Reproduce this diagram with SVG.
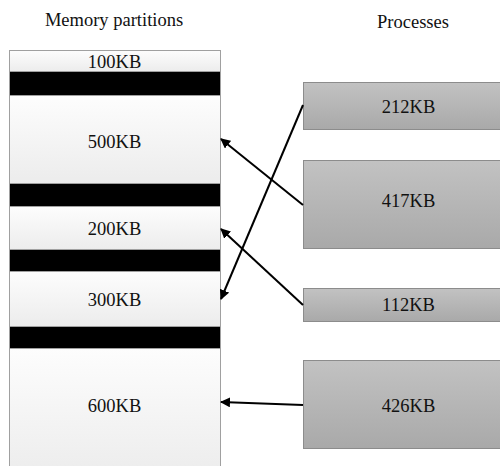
<svg xmlns="http://www.w3.org/2000/svg" width="500" height="466" viewBox="0 0 500 466" font-family="'Liberation Serif', serif">
<style>
text{font-family:'Liberation Serif',serif;font-size:18.5px;fill:#111;text-anchor:middle}
.mem{fill:url(#gm);stroke:#a0a0a0;stroke-width:1}
.bar{fill:#000;stroke:#a0a0a0;stroke-width:1}
.proc{fill:url(#gp);stroke:#8c8c8c;stroke-width:1}
.conn{stroke:#000;stroke-width:2;fill:none;marker-end:url(#ah)}
</style>
<defs>
<linearGradient id="gm" x1="0" y1="0" x2="0" y2="1"><stop offset="0" stop-color="#fdfdfd"/><stop offset="1" stop-color="#ececec"/></linearGradient>
<linearGradient id="gp" x1="0" y1="0" x2="0" y2="1"><stop offset="0" stop-color="#c2c2c2"/><stop offset="1" stop-color="#a9a9a9"/></linearGradient>
<marker id="ah" viewBox="0 0 10 10" refX="9" refY="5" markerWidth="5" markerHeight="5" orient="auto" markerUnits="strokeWidth"><path d="M0,0 L10,5 L0,10 Z" fill="#000"/></marker>
</defs>
<text x="114" y="26">Memory partitions</text>
<text x="413" y="28">Processes</text>
<g id="mem100"><rect class="mem" x="9.5" y="50.5" width="211" height="21"/><text x="114.5" y="68">100KB</text></g>
<g id="hole1"><rect class="bar" x="9.5" y="71.5" width="211" height="24"/></g>
<g id="mem500"><rect class="mem" x="9.5" y="95.5" width="211" height="88"/><text x="114.5" y="148">500KB</text></g>
<g id="hole2"><rect class="bar" x="9.5" y="183.5" width="211" height="23"/></g>
<g id="mem200"><rect class="mem" x="9.5" y="206.5" width="211" height="43"/><text x="114.5" y="235">200KB</text></g>
<g id="hole3"><rect class="bar" x="9.5" y="249.5" width="211" height="22"/></g>
<g id="mem300"><rect class="mem" x="9.5" y="271.5" width="211" height="55"/><text x="114.5" y="306">300KB</text></g>
<g id="hole4"><rect class="bar" x="9.5" y="326.5" width="211" height="22"/></g>
<g id="mem600"><rect class="mem" x="9.5" y="348.5" width="211" height="130"/><text x="114.5" y="411.5">600KB</text></g>
<g id="p212"><rect class="proc" x="303.5" y="82.5" width="210" height="47"/><text x="408.5" y="112.5">212KB</text></g>
<g id="p417"><rect class="proc" x="303.5" y="160.5" width="210" height="88"/><text x="408.5" y="206.5">417KB</text></g>
<g id="p112"><rect class="proc" x="303.5" y="288.5" width="210" height="33"/><text x="408.5" y="310.5">112KB</text></g>
<g id="p426"><rect class="proc" x="303.5" y="360.5" width="210" height="88"/><text x="408.5" y="411.5">426KB</text></g>
<g id="connectors">
<line class="conn" x1="303" y1="105" x2="221" y2="299"/>
<line class="conn" x1="303" y1="205" x2="221" y2="139"/>
<line class="conn" x1="303" y1="305" x2="221" y2="229"/>
<line class="conn" x1="303" y1="405" x2="221" y2="402"/>
</g>
</svg>
